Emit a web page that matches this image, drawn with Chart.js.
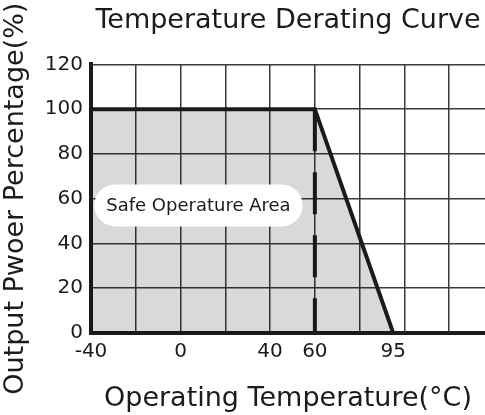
<!DOCTYPE html>
<html>
<head>
<meta charset="utf-8">
<script src="https://cdn.jsdelivr.net/npm/chart.js@4.4.1/dist/chart.umd.min.js"></script>
<style>
  body { margin: 0; background: #fff; }
  #wrap { width: 485px; height: 415px; }
</style>
</head>
<body>
<div id="wrap"><canvas id="grafico"></canvas></div>
<script>
// curva de derating: temperatura (°C) x potencia (%)
const temps = [-40, 60, 95];
const potencia = [100, 100, 0];
// linha tracejada no inicio do derating
const tracejadoX = [60, 60];
const tracejadoY = [100, 0];
// rotulos que aparecem no eixo x (a grade vai de 20 em 20)
const rotulosX = [-40, 0, 40, 60, 95];
const gradeX = [-40, -20, 0, 20, 40, 60, 80, 100, 120];
const rotulosY = [0, 20, 40, 60, 80, 100, 120];

const corLinha = '#1e1a1b';
const fonte = "'DejaVu Sans', sans-serif";

// caixa branca "Safe Operature Area"
const areaSegura = {
    id: 'areaSegura',
    afterDatasetsDraw(chart) {
        const { ctx, scales } = chart;
        const cx = scales.x.getPixelForValue(8);
        const cy = scales.y.getPixelForValue(57);
        ctx.save();
        ctx.font = "18px " + fonte;
        const texto = "Safe Operature Area";
        const w = ctx.measureText(texto).width + 24;
        const h = 42;
        ctx.fillStyle = '#fff';
        ctx.beginPath();
        ctx.roundRect(cx - w / 2, cy - h / 2, w, h, 21);
        ctx.fill();
        ctx.fillStyle = corLinha;
        ctx.textAlign = 'center';
        ctx.textBaseline = 'middle';
        ctx.fillText(texto, cx, cy + 1);
        ctx.restore();
    }
};

const ctx = document.getElementById("grafico");
new Chart(ctx, {
    type: "line",
    data: {
        datasets: [
            {
                data: temps.map((t, i) => ({ x: t, y: potencia[i] })),
                borderColor: corLinha,
                backgroundColor: 'rgba(0, 0, 0, 0.15)',
                borderWidth: 4,
                fill: 'origin',
                pointRadius: 0,
                tension: 0
            },
            {
                data: tracejadoX.map((t, i) => ({ x: t, y: tracejadoY[i] })),
                borderColor: corLinha,
                borderWidth: 4,
                borderDash: [42, 21],
                fill: false,
                pointRadius: 0
            }
        ]
    },
    options: {
        responsive: true,
        maintainAspectRatio: false,
        animation: false,
        layout: { padding: 0 },
        plugins: {
            legend: { display: false },
            tooltip: { enabled: false },
            title: {
                display: true,
                fullSize: false,
                text: "Temperature Derating Curve",
                color: corLinha,
                font: { family: fonte, size: 27, weight: 'normal' },
                padding: { top: 5, bottom: 27 }
            }
        },
        scales: {
            x: {
                type: 'linear',
                min: -40,
                max: 136,
                afterBuildTicks: (scale) => {
                    scale.ticks = gradeX.concat([95]).sort((a, b) => a - b).map(v => ({ value: v }));
                },
                afterFit: (scale) => { scale.height = 82; },
                ticks: {
                    autoSkip: false,
                    maxRotation: 0,
                    color: corLinha,
                    font: { family: fonte, size: 20 },
                    padding: 7,
                    callback: (v) => rotulosX.includes(v) ? String(v) : ''
                },
                grid: {
                    color: (c) => gradeX.includes(c.tick.value) ? '#3a3a3a' : 'rgba(0,0,0,0)',
                    lineWidth: 1.5,
                    drawTicks: false
                },
                border: { color: corLinha, width: 4 },
                title: {
                    display: true,
                    text: "Operating Temperature(°C)",
                    color: corLinha,
                    font: { family: fonte, size: 27 },
                    padding: { top: 0, bottom: 0 }
                }
            },
            y: {
                min: 0,
                max: 120,
                afterBuildTicks: (scale) => {
                    scale.ticks = rotulosY.map(v => ({ value: v }));
                },
                afterFit: (scale) => { scale.width = 91; },
                ticks: {
                    color: corLinha,
                    font: { family: fonte, size: 20 },
                    padding: 8
                },
                grid: { color: '#3a3a3a', lineWidth: 1.5, drawTicks: false },
                border: { color: corLinha, width: 4 },
                title: {
                    display: true,
                    text: "Output Pwoer Percentage(%)",
                    color: corLinha,
                    font: { family: fonte, size: 27 },
                    padding: { top: 0, bottom: 0 }
                }
            }
        }
    },
    plugins: [areaSegura]
});
</script>
</body>
</html>
